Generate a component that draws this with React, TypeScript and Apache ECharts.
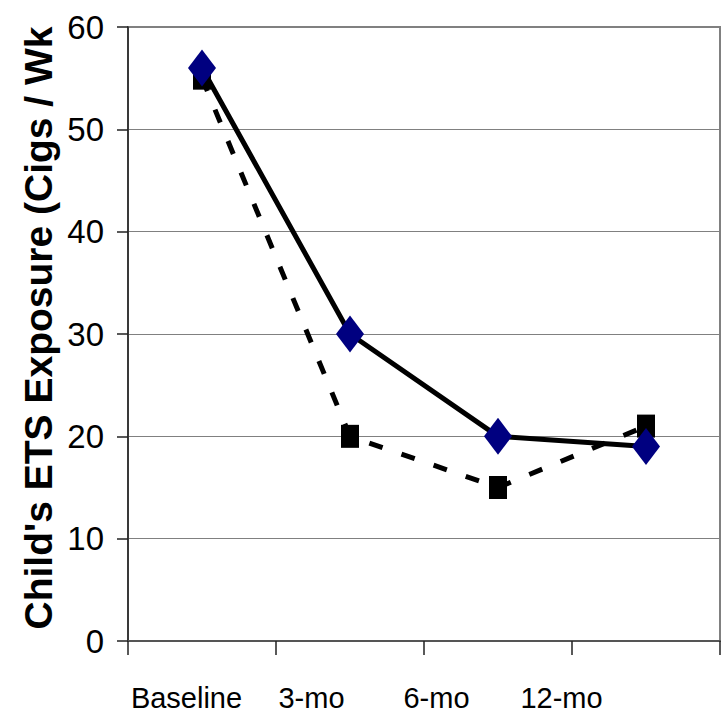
import React, { useEffect, useRef } from "react";
import * as echarts from "echarts";

const categories = ["Baseline", "3-mo", "6-mo", "12-mo"];
const solidSeries = [56, 30, 20, 19];
const dashedSeries = [55, 20, 15, 21];
const yTicks = { min: 0, max: 60, interval: 10 };
const yTitle = "Child's ETS Exposure (Cigs / Wk";

const FONT = "'Liberation Sans', Arial, sans-serif";

export default function App() {
  const ref = useRef<HTMLDivElement>(null);
  useEffect(() => {
    if (!ref.current) return;
    const chart = echarts.init(ref.current, null, { renderer: "svg" });
    chart.setOption({
      animation: false,
      backgroundColor: "#ffffff",
      grid: [
        {
          left: 128,
          right: 2,
          top: 27,
          bottom: 78,
          show: true,
          borderColor: "#808080",
          borderWidth: 2,
          backgroundColor: "transparent",
        },
        { left: 124, width: 500, top: 27, bottom: 78, show: false },
      ],
      xAxis: [
        {
          type: "category",
          gridIndex: 0,
          data: categories,
          boundaryGap: true,
          axisLine: { show: true, lineStyle: { color: "#555555", width: 2 } },
          axisTick: { show: true, length: 14, inside: false, interval: 0, lineStyle: { color: "#222222", width: 1.5 } },
          axisLabel: { show: false },
          splitLine: { show: false },
        },
        {
          type: "category",
          gridIndex: 1,
          data: categories,
          boundaryGap: true,
          axisLine: { show: false },
          axisTick: { show: false },
          axisLabel: { show: true, interval: 0, margin: 42, fontSize: 29, fontFamily: FONT, color: "#000000" },
          splitLine: { show: false },
        },
      ],
      yAxis: [
        {
          type: "value",
          gridIndex: 0,
          min: yTicks.min,
          max: yTicks.max,
          interval: yTicks.interval,
          axisLine: { show: true, lineStyle: { color: "#222222", width: 1.5 } },
          axisTick: { show: true, length: 11, inside: false, lineStyle: { color: "#222222", width: 1.5 } },
          axisLabel: { margin: 24, fontSize: 33, fontFamily: FONT, color: "#000000" },
          splitLine: { show: true, lineStyle: { color: "#808080", width: 1 } },
        },
        {
          type: "value",
          gridIndex: 1,
          min: yTicks.min,
          max: yTicks.max,
          show: false,
          splitLine: { show: false },
        },
      ],
      graphic: [
        {
          type: "text",
          x: 38,
          y: 328,
          rotation: Math.PI / 2,
          style: {
            text: yTitle,
            fontSize: 39,
            fontWeight: "bold",
            fontFamily: FONT,
            fill: "#000000",
            textAlign: "center",
            textVerticalAlign: "middle",
          },
        },
      ],
      series: [
        {
          type: "line",
          xAxisIndex: 0,
          yAxisIndex: 0,
          data: solidSeries,
          symbol: "diamond",
          symbolSize: [28, 37],
          itemStyle: { color: "#000080" },
          lineStyle: { color: "#000000", width: 5 },
          z: 3,
        },
        {
          type: "line",
          xAxisIndex: 0,
          yAxisIndex: 0,
          data: dashedSeries,
          symbol: "rect",
          symbolSize: [18, 23],
          itemStyle: { color: "#000000" },
          lineStyle: { color: "#000000", width: 5, type: [14, 20], cap: "butt" },
          z: 2,
        },
      ],
    });
    return () => chart.dispose();
  }, []);
  return (
    <div
      ref={ref}
      style={{ position: "fixed", left: 0, top: 0, width: 722, height: 719 }}
    />
  );
}
